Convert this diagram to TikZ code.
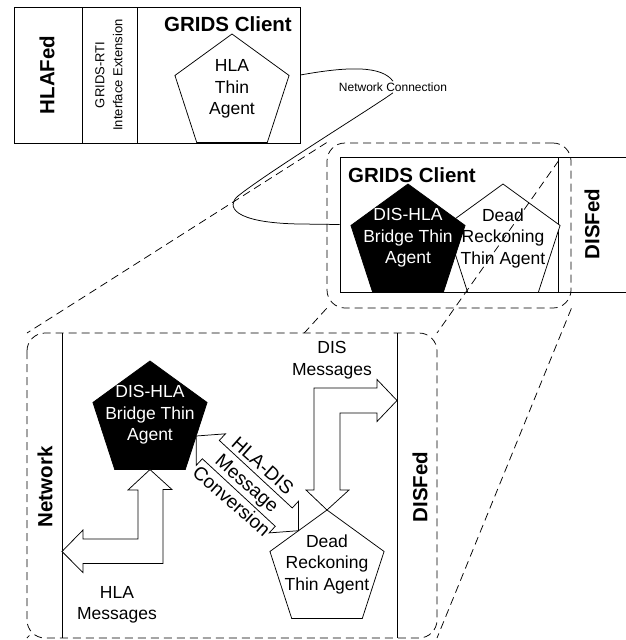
\documentclass[tikz,border=0pt]{standalone}
\usepackage{fontspec}
\setmainfont{Liberation Sans}
\usetikzlibrary{shapes.geometric,calc}

\begin{document}
\begin{tikzpicture}[x=1pt,y=-1pt,line width=0.75pt,
  boldtitle/.style={font=\fontsize{20.5}{24}\selectfont\bfseries,inner sep=1pt},
  fed/.style={boldtitle,rotate=90},
  txt/.style={font=\fontsize{17.5}{21.5}\selectfont,align=center,inner sep=1pt},
  agent/.style={draw,regular polygon,regular polygon sides=5,minimum size=120pt,inner sep=0pt,outer sep=0pt},
  zoomframe/.style={draw,dash pattern=on 8pt off 5pt,rounded corners=18pt},
  proj/.style={dash pattern=on 8pt off 5pt},
  blockarrow/.style={draw,fill=white,line join=miter}]
  \useasboundingbox (0,0) rectangle (626,640);

  \node[draw,minimum width=286pt,minimum height=136pt,inner sep=0pt] (hlaBox) at (157,75) {};
  \draw (82,7) -- (82,143) (137,7) -- (137,143);
  \node[fed] (hlaFed) at (47,75) {HLAFed};
  \node[rotate=90,align=center,font=\fontsize{13}{18}\selectfont] (rtiExt) at (109,75) {GRIDS-RTI\\Interface Extension};
  \node[boldtitle] (clientA) at (228,24) {GRIDS Client};
  \node[agent] (hlaAgent) at (232,94) {};
  \node[txt] (hlaAgentTxt) at ([yshift=5pt]hlaAgent.center) {HLA\\Thin\\Agent};

  \node[draw,minimum width=286pt,minimum height=135pt,inner sep=0pt] (gridsB) at (483,224.5) {};
  \draw (558,157) -- (558,292);
  \node[fed] (disFedA) at (592,224) {DISFed};
  \node[boldtitle] (clientB) at (412,175) {GRIDS Client};
  \node[agent,fill=white] (deadA) at (503,244) {};
  \node[agent,fill=black] (bridgeA) at (408,244) {};
  \node[txt,text=white] (bridgeATxt) at ([yshift=6pt]bridgeA.center) {DIS-HLA\\Bridge Thin\\Agent};
  \node[txt] (deadATxt) at ([yshift=6pt]deadA.center) {Dead\\Reckoning\\Thin Agent};

  \node[font=\fontsize{12}{14}\selectfont,inner sep=1pt] (netLabel) at (393,87) {Network Connection};
  \draw (hlaBox.east) .. controls (350,66) and (382,66) .. (netLabel.north);
  \draw (netLabel.south) .. controls (375,106) and (268,172) .. (238,196)
    .. controls (226,206) and (232,223) .. (300,224) -- (gridsB.west);

  \node[zoomframe,minimum width=244pt,minimum height=165pt] (zoomSmall) at (449,225.5) {};
  \coordinate (bigNW) at (27,333);
  \coordinate (bigSE) at (437,638);
  \draw[proj] (zoomSmall.north west) -- (bigNW);
  \draw[proj,shorten <=22pt] (zoomSmall.north east) -- (bigNW -| bigSE);
  \draw[proj] (zoomSmall.south west) -- (bigNW |- bigSE);
  \draw[proj] (zoomSmall.south east) -- (bigSE);
  \draw[zoomframe,fill=white] (bigNW) rectangle (bigSE);

  \draw (62,333) -- (62,638) (397,333) -- (397,638);
  \node[fed] (networkLabel) at (45,487) {Network};
  \node[fed] (disFedB) at (420,487) {DISFed};
  \node[agent,fill=black] (bridgeB) at (150,421) {};
  \node[txt,text=white] (bridgeBTxt) at ([yshift=6pt]bridgeB.center) {DIS-HLA\\Bridge Thin\\Agent};
  \node[agent,fill=white] (deadB) at (327,570) {};
  \node[txt] (deadBTxt) at ([yshift=6pt]deadB.center) {Dead\\Reckoning\\Thin Agent};
  \coordinate (hlaOut) at (62,551.5);
  \coordinate (disIn) at (397,400.5);

  \draw[blockarrow] (bridgeB.south) -- ++(22,20) -- ++(-9,0) -- ++(0,74) -- ++(-80,0) -- ++(0,9)
    -- (hlaOut) -- ++(21,-21.5) -- ++(0,9) -- ++(55,0) -- ++(0,-49) -- ++(-10,0) -- cycle;
  \draw[blockarrow] (deadB.north) -- ++(-21,-20) -- ++(8,0) -- ++(0,-102) -- ++(63,0) -- ++(0,-8.5)
    -- (disIn) -- ++(-20,21) -- ++(0,-8.5) -- ++(-37,0) -- ++(0,77) -- ++(9,0) -- cycle;

  \coordinate (convA) at (bridgeB.side 4);
  \coordinate (convB) at (deadB.side 1);
  \begin{scope}[shift={(convA)},rotate=-42.8]
    \draw[blockarrow] (0,0) -- (20,-21.5) -- (20,-12.5) -- (119.4,-12.5) -- (119.4,-21.5) -- (139.4,0)
      -- (119.4,21.5) -- (119.4,12.5) -- (20,12.5) -- (20,21.5) -- cycle;
  \end{scope}
  \node[txt,rotate=-41.5,font=\fontsize{19}{23.5}\selectfont] (convTxt) at ($(convA)!0.5!(convB)$) {HLA-DIS\\Message\\Conversion};

  \node[txt] (hlaMsg) at (117,605) {HLA\\Messages};
  \node[txt] (disMsg) at (332,360) {DIS\\Messages};
\end{tikzpicture}
\end{document}
